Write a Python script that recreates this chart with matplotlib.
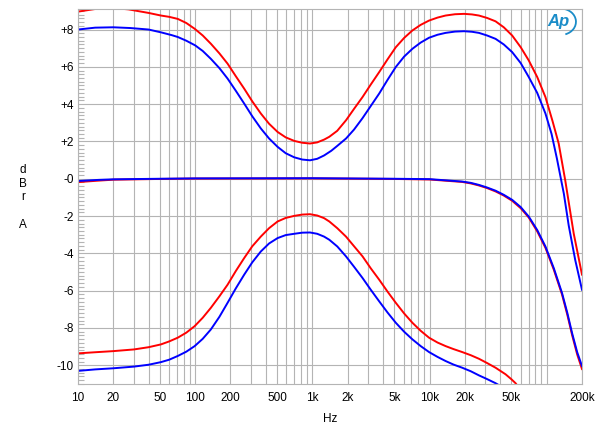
import numpy as np
import matplotlib
matplotlib.use('Agg')
import matplotlib.pyplot as plt
from matplotlib.ticker import FixedLocator, MultipleLocator, NullFormatter
from matplotlib.patches import Arc

plt.rcParams['font.family'] = ['Liberation Sans', 'DejaVu Sans']

# Tone control responses (Hz, dBr)
boost_blue_f = [10, 14, 20, 28, 40, 51, 63, 71, 84, 100, 116, 136, 161, 189, 222, 262, 307,
                363, 427, 505, 592, 700, 820, 955, 1100, 1260, 1450, 1630, 1940, 2270, 2680,
                3150, 3720, 4380, 5150, 6070, 7150, 8400, 9900, 11700, 13700, 16500, 19700,
                23000, 26400, 31000, 36600, 43000, 50700, 60000, 70300, 83000, 97500, 110000,
                122000, 140000, 154000, 175000, 200000]
boost_blue_db = [8.0, 8.1, 8.12, 8.08, 8.0, 7.85, 7.7, 7.6, 7.4, 7.15, 6.85, 6.43, 5.93, 5.37,
                 4.72, 4.03, 3.35, 2.7, 2.16, 1.71, 1.37, 1.15, 1.03, 0.99, 1.07, 1.25, 1.5,
                 1.76, 2.16, 2.64, 3.25, 3.9, 4.57, 5.3, 5.99, 6.55, 6.97, 7.3, 7.56, 7.72,
                 7.82, 7.89, 7.91, 7.88, 7.82, 7.68, 7.5, 7.2, 6.79, 6.2, 5.45, 4.6, 3.5, 2.4,
                 1.1, -0.8, -2.5, -4.35, -5.95]

boost_red_f = [10, 14, 20, 27, 40, 51, 60, 71, 84, 99, 116, 136, 161, 189, 222, 262, 307, 363,
               427, 505, 592, 700, 820, 955, 1100, 1260, 1395, 1630, 1940, 2270, 2680, 3150,
               3720, 4380, 5150, 6070, 7140, 8400, 9900, 11700, 13700, 16500, 19700, 23000,
               26400, 31000, 36600, 43000, 50700, 60000, 70300, 83000, 97500, 112000, 126500,
               144000, 170000, 200000]
boost_red_db = [8.96, 9.1, 9.15, 9.08, 8.89, 8.75, 8.68, 8.57, 8.35, 8.04, 7.68, 7.24, 6.72,
                6.17, 5.5, 4.83, 4.15, 3.5, 2.95, 2.51, 2.22, 2.03, 1.93, 1.89, 1.95, 2.1,
                2.25, 2.57, 3.14, 3.75, 4.38, 5.05, 5.72, 6.4, 7.05, 7.55, 7.95, 8.25, 8.48,
                8.64, 8.75, 8.82, 8.84, 8.81, 8.75, 8.62, 8.44, 8.12, 7.68, 7.05, 6.34, 5.45,
                4.38, 3.1, 1.89, -0.1, -2.94, -5.14]

flat_f = [10, 15, 20, 50, 100, 1000, 5000, 10000, 19000, 22500, 26400, 31000, 36600, 43000,
          50700, 60000, 70300, 83000, 97500, 115000, 135000, 150000, 165000, 182000, 200000]
flat_blue_db = [-0.12, -0.06, -0.03, 0.0, 0.02, 0.03, 0.0, -0.02, -0.15, -0.22, -0.33, -0.47,
                -0.64, -0.86, -1.13, -1.52, -2.03, -2.75, -3.63, -4.8, -6.12, -7.2, -8.3,
                -9.3, -10.04]
flat_red_db = [-0.18, -0.1, -0.05, -0.01, 0.01, 0.02, -0.01, -0.04, -0.17, -0.25, -0.36,
               -0.5, -0.68, -0.9, -1.18, -1.58, -2.08, -2.82, -3.7, -4.88, -6.2, -7.3, -8.4,
               -9.42, -10.2]

cut_blue_f = [10, 14, 20, 30, 40, 51, 60, 71, 84, 99, 116, 136, 161, 189, 222, 262, 307, 363,
              427, 505, 592, 700, 820, 955, 1100, 1258, 1395, 1632, 1936, 2270, 2680, 3150,
              3717, 4380, 5152, 6070, 7140, 8400, 9900, 11700, 13700, 16000, 19000, 22500,
              26400, 31000, 36600, 40000]
cut_blue_db = [-10.3, -10.22, -10.16, -10.07, -9.97, -9.83, -9.7, -9.5, -9.27, -8.97, -8.58,
               -8.08, -7.4, -6.65, -5.88, -5.14, -4.48, -3.9, -3.47, -3.18, -3.02, -2.95,
               -2.89, -2.88, -2.95, -3.1, -3.27, -3.63, -4.16, -4.72, -5.32, -5.95, -6.57,
               -7.17, -7.72, -8.2, -8.61, -8.97, -9.29, -9.55, -9.77, -9.96, -10.13, -10.32,
               -10.54, -10.74, -10.96, -11.1]

cut_red_f = [10, 14, 20, 30, 40, 51, 60, 71, 84, 99, 116, 136, 161, 189, 222, 262, 307, 363,
             427, 505, 592, 700, 820, 955, 1100, 1258, 1395, 1632, 1936, 2270, 2680, 3150,
             3717, 4380, 5152, 6070, 7140, 8400, 9900, 11700, 13700, 16000, 19000, 22500,
             26400, 31000, 36600, 44500, 50000, 54200, 58000]
cut_red_db = [-9.36, -9.3, -9.24, -9.15, -9.03, -8.88, -8.72, -8.52, -8.25, -7.9, -7.45,
              -6.92, -6.3, -5.68, -4.95, -4.25, -3.62, -3.1, -2.65, -2.29, -2.1, -1.99,
              -1.92, -1.9, -1.97, -2.11, -2.29, -2.65, -3.1, -3.62, -4.16, -4.8, -5.41,
              -6.05, -6.65, -7.22, -7.72, -8.15, -8.52, -8.78, -8.97, -9.13, -9.29, -9.46,
              -9.65, -9.88, -10.13, -10.48, -10.75, -10.96, -11.2]

x_ticks = [10, 20, 50, 100, 200, 500, 1000, 2000, 5000, 10000, 20000, 50000, 200000]
x_labels = ['10', '20', '50', '100', '200', '500', '1k', '2k', '5k', '10k', '20k', '50k', '200k']
y_ticks = [-10, -8, -6, -4, -2, 0, 2, 4, 6, 8]
y_labels = ['-10', '-8', '-6', '-4', '-2', '-0', '+2', '+4', '+6', '+8']

BLUE = '#0000ff'
RED = '#ff0000'
GRID = '#b4b4b4'
LOGO = '#1a8cc8'

fig = plt.figure(figsize=(6, 4.29), dpi=100)
ax = fig.add_axes([0.13, 0.105, 0.84, 0.874])

ax.set_xscale('log')
ax.set_xlim(10, 200000)
ax.set_ylim(-11, 9.1)

# vertical grid at every 1..9 of each decade
grid_x = [m * 10 ** d for d in range(1, 6) for m in range(1, 10) if m * 10 ** d <= 200000]
for gx in grid_x:
    ax.axvline(gx, color=GRID, lw=0.8, zorder=0)
for gy in y_ticks:
    ax.axhline(gy, color=GRID, lw=0.8, zorder=0)

lw = 1.4
ax.plot(boost_blue_f, boost_blue_db, color=BLUE, lw=lw)
ax.plot(boost_red_f, boost_red_db, color=RED, lw=lw)
ax.plot(flat_f, flat_red_db, color=RED, lw=lw)
ax.plot(flat_f, flat_blue_db, color=BLUE, lw=lw)
ax.plot(cut_blue_f, cut_blue_db, color=BLUE, lw=lw)
ax.plot(cut_red_f, cut_red_db, color=RED, lw=lw)

ax.xaxis.set_major_locator(FixedLocator(x_ticks))
ax.set_xticklabels(x_labels)
ax.xaxis.set_minor_formatter(NullFormatter())
ax.tick_params(axis='x', which='both', length=0, pad=6, labelsize=8.5)

ax.set_yticks(y_ticks)
ax.set_yticklabels(y_labels)
ax.yaxis.set_minor_locator(MultipleLocator(0.2))
ax.tick_params(axis='y', which='major', length=0, pad=3, labelsize=8.5)
ax.tick_params(axis='y', which='minor', direction='in', length=4, color=GRID, width=0.8)

for s in ax.spines.values():
    s.set_color(GRID)
    s.set_linewidth(0.8)

ax.set_xlabel('Hz', fontsize=8.5, labelpad=6)
fig.text(0.038, 0.54, 'd\nB\nr\n\nA', ha='center', va='center', fontsize=8.5, linespacing=1.2)

# Audio Precision logo
ax.text(0.954, 0.966, 'Ap', transform=ax.transAxes, ha='center', va='center',
        fontsize=12, style='italic', weight='bold', color=LOGO)
ax.add_patch(Arc((0.958, 0.966), 0.06, 0.07, theta1=-75, theta2=85,
                 transform=ax.transAxes, color=LOGO, lw=1.3))

fig.savefig('out.png', dpi=100)
